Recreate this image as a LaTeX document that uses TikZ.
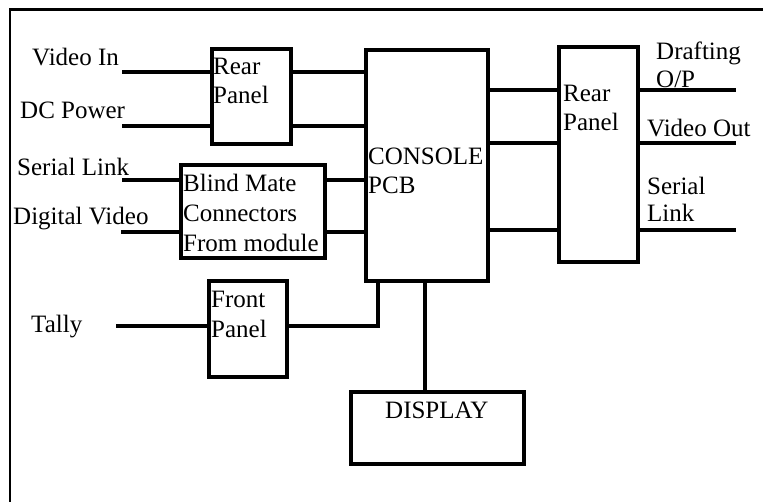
\documentclass[tikz,border=0pt]{standalone}
\usepackage{fontspec}
\setmainfont{Liberation Serif}
\begin{document}
\begin{tikzpicture}[x=1pt,y=-1pt,
  box/.style={draw, line width=4pt, inner sep=0pt, outer sep=0pt, anchor=north west},
  wire/.style={line width=4pt},
  frameline/.style={line width=2.5pt},
  lbl/.style={anchor=base west, inner sep=0pt, font=\fontsize{25}{30}\selectfont}]
\useasboundingbox (0,0) rectangle (763,502);
% frame
\coordinate (fbl) at (10,502);
\coordinate (ftl) at (10,9.5);
\coordinate (ftr) at (763,9.5);
\draw[frameline] (fbl) -- (ftl) -- (ftr);
% boxes
\node[box, minimum width=79pt, minimum height=95pt] (rp1) at (212,49) {};
\node[box, minimum width=122pt, minimum height=231pt] (con) at (366,50) {};
\node[box, minimum width=144pt, minimum height=93pt] (bm) at (181,165) {};
\node[box, minimum width=78pt, minimum height=96pt] (fp) at (209,281) {};
\node[box, minimum width=173pt, minimum height=72pt] (disp) at (351,392) {};
\node[box, minimum width=79pt, minimum height=215pt] (rp2) at (559,47) {};
% free ends
\coordinate (vin) at (122,72);
\coordinate (dcp) at (122,126);
\coordinate (sl) at (122,180);
\coordinate (dv) at (121,232);
\coordinate (tal) at (116,326);
\coordinate (o1) at (736,90);
\coordinate (o2) at (736,143);
\coordinate (o3) at (736,230);
\coordinate (fpc) at (378,326);
\coordinate (dx) at (425,300);
% wires
\draw[wire] (vin) -- (rp1.west |- vin);
\draw[wire] (dcp) -- (rp1.west |- dcp);
\draw[wire] (rp1.east |- vin) -- (con.west |- vin);
\draw[wire] (rp1.east |- dcp) -- (con.west |- dcp);
\draw[wire] (sl) -- (bm.west |- sl);
\draw[wire] (dv) -- (bm.west |- dv);
\draw[wire] (bm.east |- sl) -- (con.west |- sl);
\draw[wire] (bm.east |- dv) -- (con.west |- dv);
\draw[wire] (tal) -- (fp.west |- tal);
\draw[wire] (fp.east |- tal) -- (fpc) -- (fpc |- con.south);
\draw[wire] (dx |- con.south) -- (dx |- disp.north);
\draw[wire] (con.east |- o1) -- (rp2.west |- o1);
\draw[wire] (con.east |- o2) -- (rp2.west |- o2);
\draw[wire] (con.east |- o3) -- (rp2.west |- o3);
\draw[wire] (rp2.east |- o1) -- (o1);
\draw[wire] (rp2.east |- o2) -- (o2);
\draw[wire] (rp2.east |- o3) -- (o3);
% labels
\node[lbl] (t1) at (32,66) {Video In};
\node[lbl] (t2) at (20,119) {DC Power};
\node[lbl] (t3) at (17,176) {Serial Link};
\node[lbl] (t4) at (13,225) {Digital Video};
\node[lbl] (t5) at (31,333) {Tally};
\node[lbl] (t6) at (213,75) {Rear};
\node[lbl] (t7) at (213,104) {Panel};
\node[lbl] (t8) at (183,192) {Blind Mate};
\node[lbl] (t9) at (183,222) {Connectors};
\node[lbl] (t10) at (183,252) {From module};
\node[lbl] (t11) at (211,308) {Front};
\node[lbl] (t12) at (211,338) {Panel};
\node[lbl] (t13) at (368,165) {CONSOLE};
\node[lbl] (t14) at (368,194) {PCB};
\node[lbl] (t15) at (385,418) {DISPLAY};
\node[lbl] (t16) at (563,102) {Rear};
\node[lbl] (t17) at (563,131) {Panel};
\node[lbl] (t18) at (656,60) {Drafting};
\node[lbl] (t19) at (656,88) {O/P};
\node[lbl] (t20) at (647,137) {Video Out};
\node[lbl] (t21) at (647,195) {Serial};
\node[lbl] (t22) at (647,222) {Link};
\end{tikzpicture}
\end{document}
